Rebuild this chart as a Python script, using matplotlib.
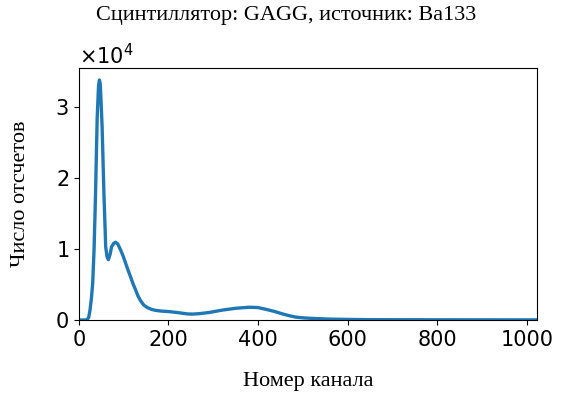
import matplotlib
matplotlib.use("Agg")
import matplotlib.pyplot as plt
import numpy as np

channels = [0, 10, 18, 22, 25, 28, 31, 34, 37, 41, 44, 46, 48, 52, 56, 60, 63, 66, 70, 73, 78,
            82, 87, 93, 99, 105, 110, 116, 121, 127, 132, 138, 145, 153, 162, 172, 185, 202,
            220, 243, 254, 270, 290, 321, 350, 381, 400, 418, 437, 455, 470, 485, 505, 530,
            560, 600, 650, 700, 800, 900, 1000, 1023]
counts = [0, 0, 20, 350, 1400, 3000, 5200, 9900, 16900, 28500, 33000, 33800, 33200, 27200,
          17900, 10300, 8900, 8500, 9300, 10300, 10800, 10950, 10700, 9900, 9000, 7900, 7000,
          6000, 5100, 4200, 3400, 2700, 2100, 1750, 1500, 1350, 1250, 1180, 1050, 850, 830,
          900, 1050, 1400, 1650, 1800, 1750, 1500, 1200, 850, 600, 400, 280, 200, 130, 80,
          50, 40, 30, 25, 20, 20]

fig = plt.figure(figsize=(5.63, 4.0), dpi=100)
ax = fig.add_axes([0.140, 0.20, 0.814, 0.63])
ax.plot(channels, counts, color="#1f77b4", lw=2.4)
ax.set_xlim(0, 1023)
ax.set_ylim(0, max(counts) * 1.05)
ax.ticklabel_format(axis="y", style="sci", scilimits=(0, 0), useMathText=True)
ax.tick_params(labelsize=15)
ax.yaxis.get_offset_text().set_fontsize(15)
ax.set_xlabel("Номер канала", family="Liberation Serif", fontsize=16, labelpad=16)
ax.set_ylabel("Число отсчетов", family="Liberation Serif", fontsize=16, labelpad=18)
fig.text(0.508, 0.962, "Сцинтиллятор: GAGG, источник: Ba133", family="Liberation Serif",
         fontsize=16, ha="center", va="center")
fig.savefig("out.png", dpi=100)
